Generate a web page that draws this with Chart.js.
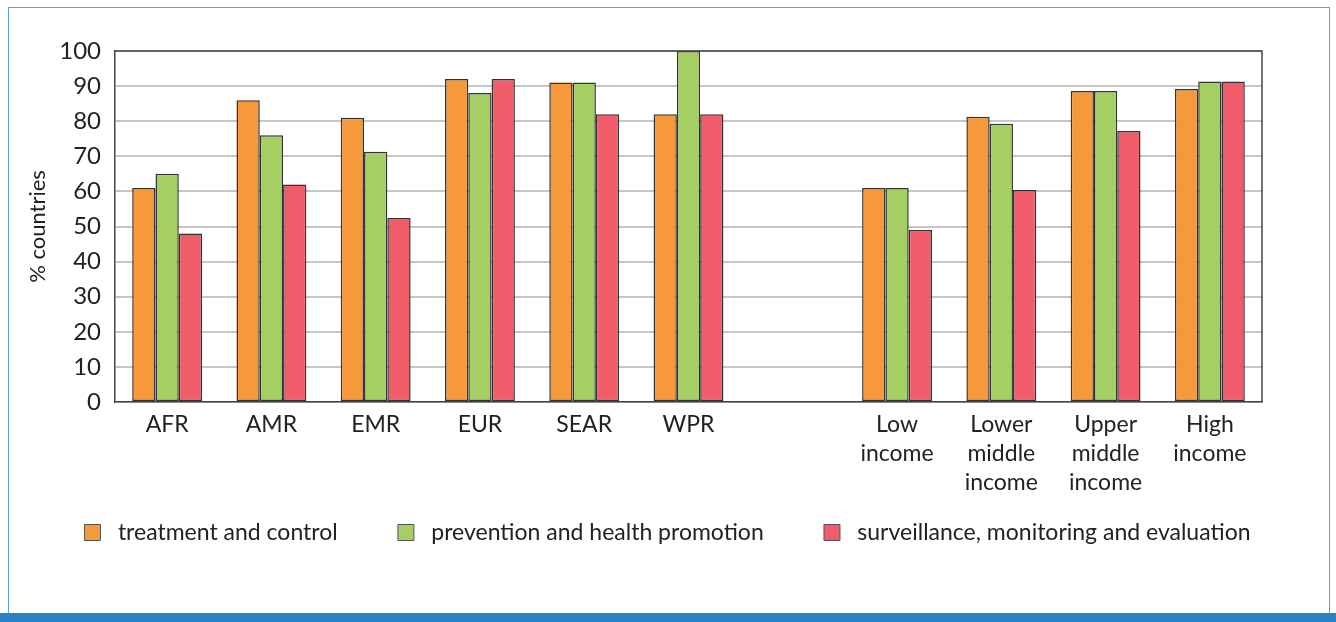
<!DOCTYPE html>
<html>
<head>
<meta charset="utf-8">
<script src="https://cdn.jsdelivr.net/npm/chart.js@4.4.1/dist/chart.umd.min.js"></script>
<style>
    html, body { margin: 0; padding: 0; background: #fff; }
    .page { position: relative; width: 1336px; height: 622px; overflow: hidden; }
    .frame { position: absolute; left: 8px; top: 7px; width: 1322px; height: 620px; border: 1.5px solid #5a9fd6; box-sizing: border-box; }
    .bottom-bar { position: absolute; left: 0; top: 613px; width: 1336px; height: 9px; background: #2a82c7; }
    canvas { position: absolute; left: 0; top: 0; }
</style>
</head>
<body>
<div class="page">
    <div class="frame"></div>
    <canvas id="chart" width="1336" height="612"></canvas>
    <div class="bottom-bar"></div>
</div>
<script>
const categories = [
    'AFR', 'AMR', 'EMR', 'EUR', 'SEAR', 'WPR', '',
    ['Low', 'income'], ['Lower', 'middle', 'income'], ['Upper', 'middle', 'income'], ['High', 'income']
];
const seriesNames = ['treatment and control', 'prevention and health promotion', 'surveillance, monitoring and evaluation'];
const treatment = [61, 86, 81, 92, 91, 82, null, 61, 81.3, 88.6, 89.2];
const prevention = [65, 76, 71.3, 88, 91, 100, null, 61, 79.3, 88.6, 91.3];
const surveillance = [48, 62, 52.4, 92, 82, 82, null, 49, 60.4, 77.2, 91.3];
const yTicks = [0, 10, 20, 30, 40, 50, 60, 70, 80, 90, 100];

const colors = ['#f6993a', '#a6cf63', '#f15c6b'];
const fontFamily = 'Lato, "Open Sans", sans-serif';

// top and right edges of the plot box, and centre the legend on the page
const plotFrame = {
    id: 'plotFrame',
    afterLayout(chart) {
        chart.legend.left += 26;
        chart.legend.right += 26;
    },
    afterDraw(chart) {
        const { ctx, chartArea: a } = chart;
        ctx.save();
        ctx.strokeStyle = '#444';
        ctx.lineWidth = 1.5;
        ctx.beginPath();
        ctx.moveTo(a.left, a.top);
        ctx.lineTo(a.right, a.top);
        ctx.lineTo(a.right, a.bottom);
        ctx.stroke();
        ctx.restore();
    }
};

// legend padding also sets its height, so the wider gap between items comes from trailing spaces
const legendGap = '       ';

new Chart(document.getElementById('chart'), {
    type: 'bar',
    data: {
        labels: categories,
        datasets: [treatment, prevention, surveillance].map((d, i) => ({
            label: seriesNames[i],
            data: d,
            backgroundColor: colors[i],
            borderColor: '#333',
            borderWidth: 1.5,
            borderSkipped: false,
            categoryPercentage: 0.67,
            barPercentage: 1
        }))
    },
    options: {
        responsive: false,
        animation: false,
        layout: { padding: { left: 21, right: 74, top: 51, bottom: 58 } },
        scales: {
            y: {
                min: 0,
                max: 100,
                afterBuildTicks: s => { s.ticks = yTicks.map(v => ({ value: v })); },
                afterFit: s => { s.width = 94; },
                grid: { color: '#c6c6c6', lineWidth: 2, drawTicks: false },
                border: { color: '#444', width: 1.5 },
                ticks: { color: '#222', padding: 14, font: { family: fontFamily, size: 24 } },
                title: { display: true, text: '% countries', color: '#222', padding: 4, font: { family: fontFamily, size: 22 } }
            },
            x: {
                afterFit: s => { s.height = 100; },
                grid: { display: false },
                border: { color: '#444', width: 1.5 },
                ticks: { color: '#222', padding: 0, maxRotation: 0, autoSkip: false, font: { family: fontFamily, size: 23, lineHeight: 1.27 } }
            }
        },
        plugins: {
            legend: {
                position: 'bottom',
                labels: {
                    color: '#222',
                    boxWidth: 16,
                    boxHeight: 16,
                    padding: 19,
                    font: { family: fontFamily, size: 23 },
                    generateLabels: chart => chart.data.datasets.map((ds, i) => ({
                        text: ' ' + ds.label + (i < 2 ? legendGap : ''),
                        fillStyle: ds.backgroundColor,
                        strokeStyle: '#555',
                        lineWidth: 1,
                        datasetIndex: i,
                        fontColor: '#222'
                    }))
                }
            },
            tooltip: { enabled: false }
        }
    },
    plugins: [plotFrame]
});
</script>
</body>
</html>
